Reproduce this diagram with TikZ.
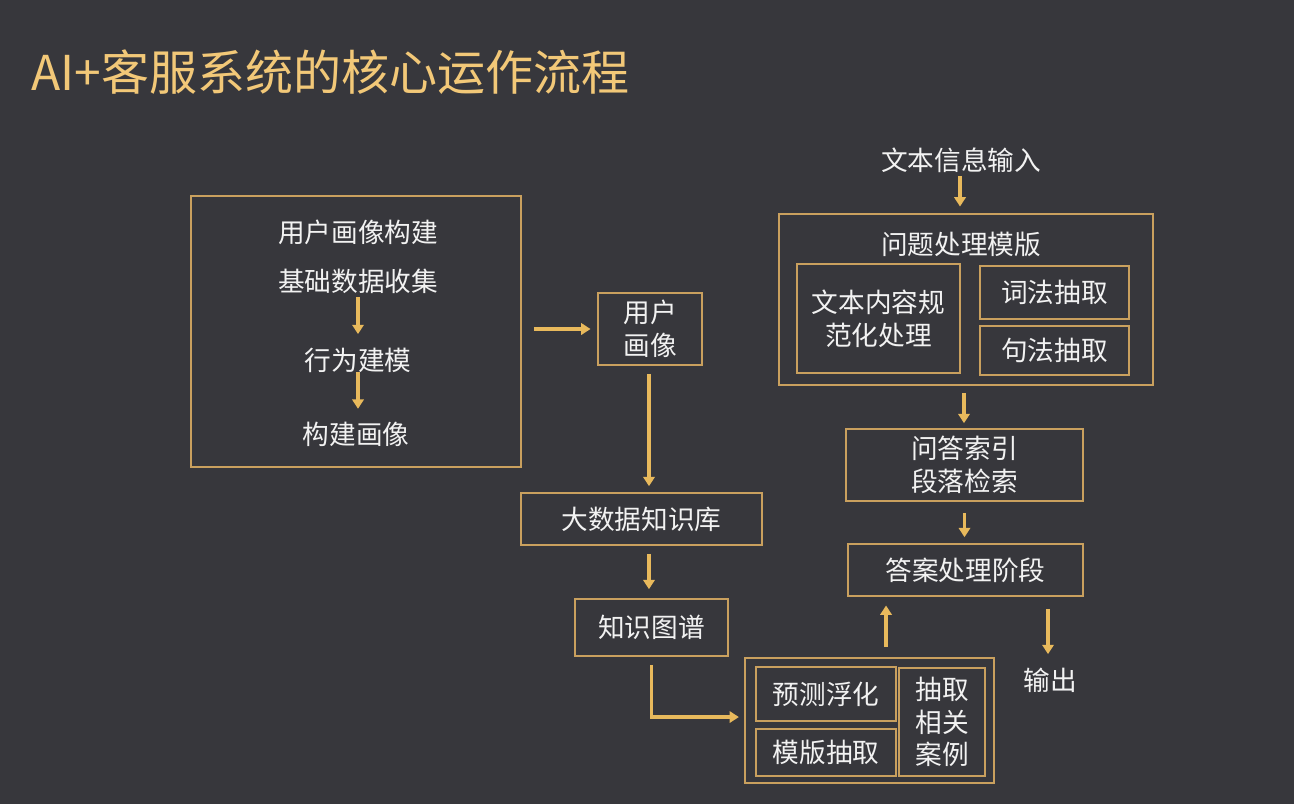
\documentclass[tikz,border=0pt]{standalone}
\usepackage{fontspec}
\setmainfont{Noto Sans CJK SC}
\usetikzlibrary{arrows.meta}
\definecolor{bg}{HTML}{37373C}
\definecolor{gold}{HTML}{F2C878}
\definecolor{boxc}{HTML}{C9A05E}
\definecolor{arrc}{HTML}{E8B95C}
\definecolor{txt}{HTML}{F2F2F2}
\tikzset{
  box/.style={draw=boxc, line width=1.2pt, inner sep=0pt, text=txt,
    font=\fontsize{20}{24.5}\selectfont, align=center},
  lbl/.style={inner sep=0pt, text=txt, font=\fontsize{20}{24.5}\selectfont, align=center},
  arr/.style={draw=arrc, line width=2.4pt, -{Triangle[length=7pt,width=8.5pt]}}
}
\begin{document}
\begin{tikzpicture}[x=0.75pt,y=-0.75pt]
\fill[bg] (0,0) rectangle (1294,804);
\useasboundingbox (0,0) rectangle (1294,804);

% title
\node[anchor=west, inner sep=0pt, text=gold, font=\fontsize{36}{40}\selectfont] (title) at (31,72) {AI+客服系统的核心运作流程};

% left big box
\node[box, minimum width=247.5pt, minimum height=203.25pt] (L) at (356,331.5) {};
\node[lbl] (L1) at (358,232) {用户画像构建};
\node[lbl] (L2) at (358,281) {基础数据收集};
\node[lbl] (L3) at (358,360) {行为建模};
\node[lbl] (L4) at (356,434) {构建画像};
\draw[arr, shorten <=2.5pt, shorten >=10pt] (L2.south -| L3.south) -- (L3.north);
\draw[arr, shorten <=-0.5pt, shorten >=9.5pt] (L3.south) -- (L3.south |- L4.north);

% user portrait
\node[box, minimum width=78pt, minimum height=54pt] (U) at (650,329) {用户\\画像};
\draw[arr, shorten <=9pt, shorten >=5pt] (L.east |- U.west) -- (U.west);

% big data KB
\node[box, minimum width=180.75pt, minimum height=39pt] (K) at (641.5,519) {大数据知识库};
\draw[arr, shorten <=6pt, shorten >=4.5pt] ([xshift=-0.75pt]U.south) -- ([xshift=-0.75pt]U.south |- K.north);

% knowledge graph
\node[box, minimum width=114.75pt, minimum height=42.75pt] (G) at (651.5,627.5) {知识图谱};
\draw[arr, shorten <=6pt, shorten >=6.75pt] ([xshift=-1.9pt]G.north |- K.south) -- ([xshift=-1.9pt]G.north);

% bottom group
\node[box, minimum width=186.75pt, minimum height=93.75pt] (B) at (869.5,720.5) {};
\node[box, minimum width=105pt, minimum height=40.5pt] (B1) at (826,694) {预测浮化};
\node[box, minimum width=105pt, minimum height=35.25pt] (B2) at (826,752.5) {模版抽取};
\node[box, minimum width=64.5pt, minimum height=81pt] (B3) at (942,722) {抽取\\相关\\案例};
\draw[arr, shorten <=6pt, shorten >=4pt] (G.south) |- ([yshift=2.6pt]B.west);

% answer processing
\node[box, minimum width=176.25pt, minimum height=39pt] (A) at (965.5,570) {答案处理阶段};
\draw[arr, shorten <=7.5pt, shorten >=6.5pt] ([xshift=12.4pt]B.north) -- ([xshift=12.4pt]B.north |- A.south);

% output
\node[lbl] (O) at (1050,680) {输出};
\draw[arr, shorten <=9pt, shorten >=10pt] ([xshift=-1.5pt]O.north |- A.south) -- ([xshift=-1.5pt]O.north);

% QA index
\node[box, minimum width=177.75pt, minimum height=54pt] (I) at (964.5,465) {问答索引\\段落检索};
\draw[arr, shorten <=8.25pt, shorten >=4.5pt] (I.south) -- (I.south |- A.north);

% question processing template
\node[box, minimum width=280.5pt, minimum height=128.25pt] (Q) at (966,299.5) {};
\node[lbl] (QT) at (961,244) {问题处理模版};
\node[box, minimum width=122.25pt, minimum height=81.75pt] (Q1) at (878.5,318.5) {文本内容规\\范化处理};
\node[box, minimum width=111.75pt, minimum height=39.75pt] (Q2) at (1054.5,292.5) {词法抽取};
\node[box, minimum width=111.75pt, minimum height=36.75pt] (Q3) at (1054.5,350.5) {句法抽取};
\draw[arr, shorten <=5.25pt, shorten >=3.75pt] ([xshift=-1.5pt]Q.south) -- ([xshift=-1.5pt]Q.south |- I.north);

% text input
\node[lbl] (T) at (961,160) {文本信息输入};
\draw[arr, shorten <=2.5pt, shorten >=5pt] ([xshift=-0.75pt]T.south) -- ([xshift=-0.75pt]T.south |- Q.north);
\end{tikzpicture}
\end{document}
